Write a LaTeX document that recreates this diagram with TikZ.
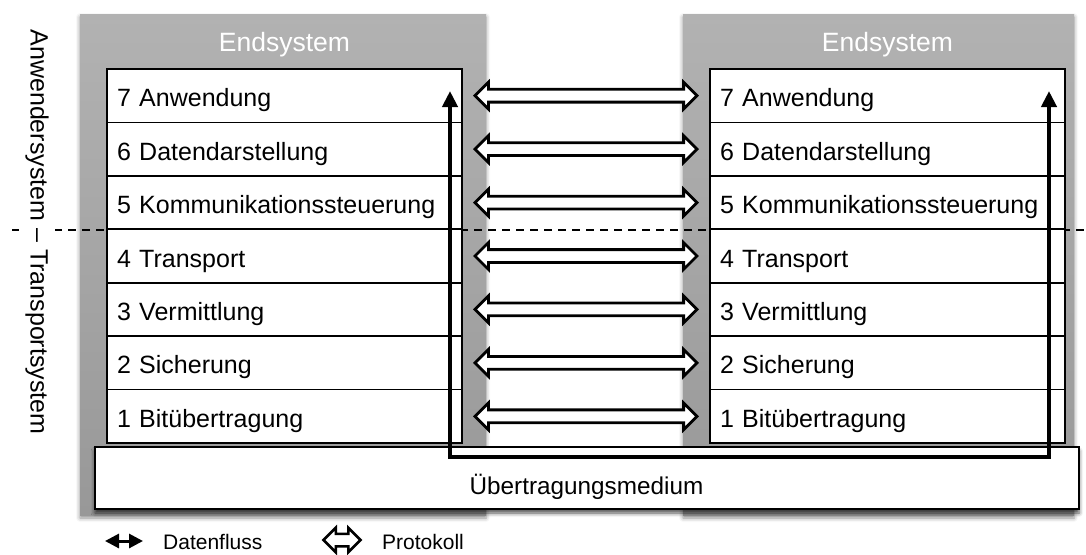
\documentclass[tikz,border=0pt]{standalone}
\usepackage{fontspec}
\setmainfont{Liberation Sans}
\usetikzlibrary{shapes.arrows,shadows.blur,arrows.meta,calc}
\definecolor{paneltop}{HTML}{B2B2B2}
\definecolor{panelbottom}{HTML}{989898}
\begin{document}
\begin{tikzpicture}[x=1pt,y=-1pt,
  panel/.style={rectangle, draw=none, top color=paneltop, bottom color=panelbottom, inner sep=0pt,
    blur shadow={shadow xshift=0pt, shadow yshift=-3pt, shadow blur radius=4pt, shadow opacity=45}},
  title/.style={text=white, font=\fontsize{26.5}{30}\selectfont, inner sep=0pt, anchor=base},
  layer/.style={rectangle, draw=black, line width=1.8pt, fill=white, text width=335pt, align=left,
    minimum height=53.43pt, inner xsep=10pt, inner ysep=0pt, text height=22pt, text depth=0pt,
    font=\fontsize{25}{29}\selectfont},
  proto/.style={double arrow, draw=black, line width=2.8pt, fill=white, inner xsep=0pt, inner ysep=5pt,
    double arrow head extend=7pt, minimum height=222pt, text height=0pt, text depth=0pt},
  medium/.style={rectangle, draw=black, line width=1.8pt, fill=white, inner sep=0pt,
    blur shadow={shadow xshift=0pt, shadow yshift=-4pt, shadow blur radius=4pt, shadow opacity=70}},
  flow/.style={line width=4.2pt, {Triangle[length=16pt,width=15pt]}-{Triangle[length=16pt,width=15pt]}},
  divider/.style={line width=2.3pt, dash pattern=on 8pt off 6pt},
  side/.style={rotate=-90, fill=white, inner xsep=2pt, inner ysep=6pt, font=\fontsize{25}{29}\selectfont},
  legend/.style={font=\fontsize{21}{24}\selectfont, anchor=base west, inner sep=0pt}
]
\useasboundingbox (0,0) rectangle (1086,554);

% the two end systems
\node[panel, minimum width=406pt, minimum height=501pt] (ES1) at (283,264.5) {};
\node[panel, minimum width=391pt, minimum height=501pt] (ES2) at (878.5,264.5) {};

% border between user system and transport system
\coordinate (divL) at (12,230);
\coordinate (divR) at (1086,230);
\draw[divider] (divL) -- (divR);

\node[title] (T1) at (284.5,51) {Endsystem};
\node[title] (T2) at (887.5,51) {Endsystem};

% the seven layers on both sides, with the protocol between peers
\foreach \i/\t [count=\k from 0] in {7/Anwendung,6/Datendarstellung,5/Kommunikationssteuerung,
    4/Transport,3/Vermittlung,2/Sicherung,1/Bitübertragung}{
  \node[layer] (L\i) at (284.5,{95.71+53.43*\k}) {\i~\t};
  \node[layer] (R\i) at (887.5,{95.71+53.43*\k}) {\i~\t};
  \node[proto] (P\i) at ($(L\i.east)!0.5!(R\i.west)$) {};
}

% physical medium
\node[medium, minimum width=984pt, minimum height=62pt] (medium) at (587,478) {};
\node[font=\fontsize{24.3}{28}\selectfont, anchor=base, inner sep=0pt] (mediumtext) at (586.5,494) {Übertragungsmedium};

% data flow through the layers and the medium
\coordinate (flowL) at (450,91);
\coordinate (flowR) at (1049,91);
\coordinate (flowbase) at (0,457);
\draw[flow] (flowL) -- (flowL |- flowbase) -| (flowR);

% side labels
\node[side] (sidelabel) at (37,232) {Anwendersystem – Transportsystem};

% legend
\coordinate (lgA) at (105,541);
\coordinate (lgB) at (143,541);
\draw[line width=3pt, {Triangle[length=14pt,width=14pt]}-{Triangle[length=14pt,width=14pt]}] (lgA) -- (lgB);
\node[legend] (lgflow) at (163,549) {Datenfluss};
\node[double arrow, draw=black, line width=2.5pt, fill=white, inner xsep=0pt, inner ysep=5pt,
  double arrow head extend=6pt, minimum height=37pt, text height=0pt, text depth=0pt] (lgproto) at (342,540) {};
\node[legend] (lgprot) at (382,549) {Protokoll};
\end{tikzpicture}
\end{document}
